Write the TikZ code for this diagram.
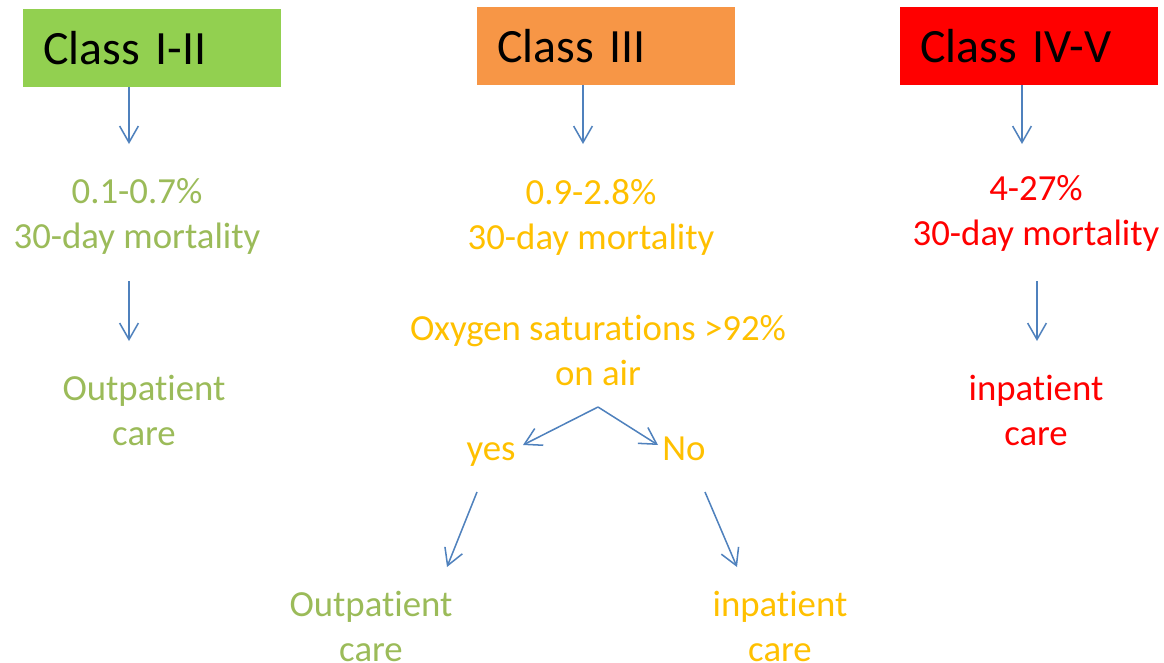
\documentclass[tikz,border=0pt]{standalone}
\usepackage{fontspec}
\setmainfont{Carlito}[Ligatures=NoCommon]
\usetikzlibrary{arrows.meta}

% --- Farben ---
\definecolor{boxgreen}{HTML}{92D050}
\definecolor{boxorange}{HTML}{F79646}
\definecolor{boxred}{HTML}{FF0000}
\definecolor{txtgreen}{HTML}{9BBB59}
\definecolor{txtorange}{HTML}{FFC000}
\definecolor{txtred}{HTML}{FF0000}
\definecolor{arrblue}{HTML}{4F81BD}

\newcommand{\classfont}{\fontsize{40.8}{49}\selectfont}
\newcommand{\infofont}{\fontsize{31.4}{38.4}\selectfont}

\tikzset{
  classbox/.style={fill=#1, anchor=north west, font=\classfont,
    minimum width=7.74cm, minimum height=2.34cm, text width=6.54cm,
    inner xsep=0.6cm, inner ysep=0pt, align=left},
  info/.style={text=#1, font=\infofont, align=center, inner sep=0pt, anchor=base},
  arr/.style={draw=arrblue, line width=1.3pt,
    -{Straight Barb[length=14pt,width=16pt,line width=1.3pt]}}
}

\begin{document}
\begin{tikzpicture}[x=0.03cm, y=-0.03cm]
  \useasboundingbox (0,0) rectangle (1164,662);

  % --- Klassen ---
  \node[classbox=boxgreen]  (c12) at (23,9)  {Class I-II};
  \node[classbox=boxorange] (c3)  at (477,7) {Class III};
  \node[classbox=boxred]    (c45) at (900,7) {Class IV-V};

  % --- Mortalitaet (Basislinie = letzte Zeile) ---
  \node[info=txtgreen]  (mG) at (137,248)  {0.1-0.7\%\\30-day mortality};
  \node[info=txtorange] (mO) at (591,249)  {0.9-2.8\%\\30-day mortality};
  \node[info=txtred]    (mR) at (1036,245) {4-27\%\\30-day mortality};

  % --- Versorgung ---
  \node[info=txtgreen]  (oG)  at (144,445)  {Outpatient\\care};
  \node[info=txtred]    (iR)  at (1036,445) {inpatient\\care};

  % --- Klasse III: Sauerstoff ---
  \node[info=txtorange] (oxy) at (598,385) {Oxygen saturations >92\%\\on air};
  \node[info=txtorange] (yes) at (491,460) {yes};
  \node[info=txtorange] (no)  at (684,460) {No};
  \node[info=txtgreen]  (oL)  at (371,661) {Outpatient\\care};
  \node[info=txtorange] (iL)  at (780,661) {inpatient\\care};

  % --- Pfeilenden ---
  \coordinate (tG1) at (129,144);
  \coordinate (tO1) at (583,144);
  \coordinate (tR1) at (1022,144);
  \coordinate (sG2) at (129,281);
  \coordinate (tG2) at (129,341);
  \coordinate (sR2) at (1037,281);
  \coordinate (tR2) at (1037,341);
  \coordinate (fork) at (598,407);
  \coordinate (tYes) at (523,445);
  \coordinate (tNo)  at (658,445);
  \coordinate (sYes) at (477,492);
  \coordinate (tOut) at (447,567);
  \coordinate (sNo)  at (705,492);
  \coordinate (tIn)  at (737,567);

  % --- Pfeile ---
  \draw[arr] (c12.south -| tG1) -- (tG1);
  \draw[arr] (c3.south -| tO1) -- (tO1);
  \draw[arr] (c45.south -| tR1) -- (tR1);
  \draw[arr] (sG2) -- (tG2);
  \draw[arr] (sR2) -- (tR2);
  \draw[arr] (fork) -- (tYes);
  \draw[arr] (fork) -- (tNo);
  \draw[arr] (sYes) -- (tOut);
  \draw[arr] (sNo) -- (tIn);

\end{tikzpicture}
\end{document}
